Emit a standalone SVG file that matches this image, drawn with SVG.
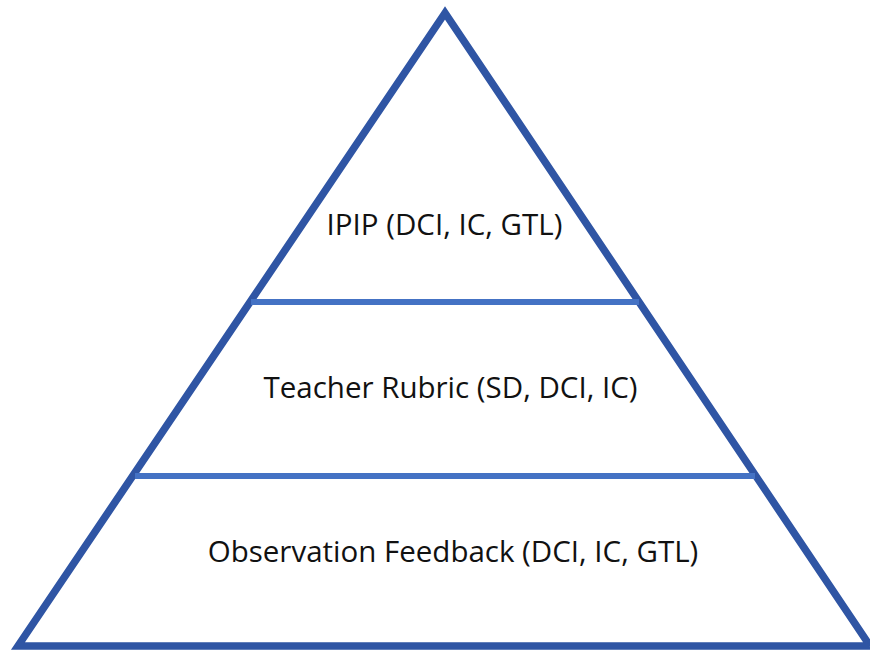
<svg xmlns="http://www.w3.org/2000/svg" width="870" height="651" viewBox="0 0 870 651">
  <style>
    .outline { fill: #ffffff; stroke: #2F55A4; stroke-width: 7.5; stroke-linejoin: miter; stroke-miterlimit: 10; }
    .divider { stroke: #4472C4; stroke-width: 6; fill: none; }
    .label { font-family: "Open Sans", "Noto Sans", "DejaVu Sans", sans-serif; font-size: 29.5px; fill: #111111; text-anchor: middle; }
  </style>
  <rect x="0" y="0" width="870" height="651" fill="#ffffff"/>
  <g id="pyramid">
    <polygon class="outline" points="445,13 18,646 870,646"/>
  </g>
  <g id="connectors">
    <line class="divider" x1="251" y1="302" x2="639" y2="302"/>
    <line class="divider" x1="135" y1="476" x2="755" y2="476"/>
  </g>
  <g id="node-ipip">
    <text class="label" x="444.5" y="235">IPIP (DCI, IC, GTL)</text>
  </g>
  <g id="node-teacher-rubric">
    <text class="label" x="450.5" y="398">Teacher Rubric (SD, DCI, IC)</text>
  </g>
  <g id="node-observation-feedback">
    <text class="label" x="453" y="562">Observation Feedback (DCI, IC, GTL)</text>
  </g>
</svg>
